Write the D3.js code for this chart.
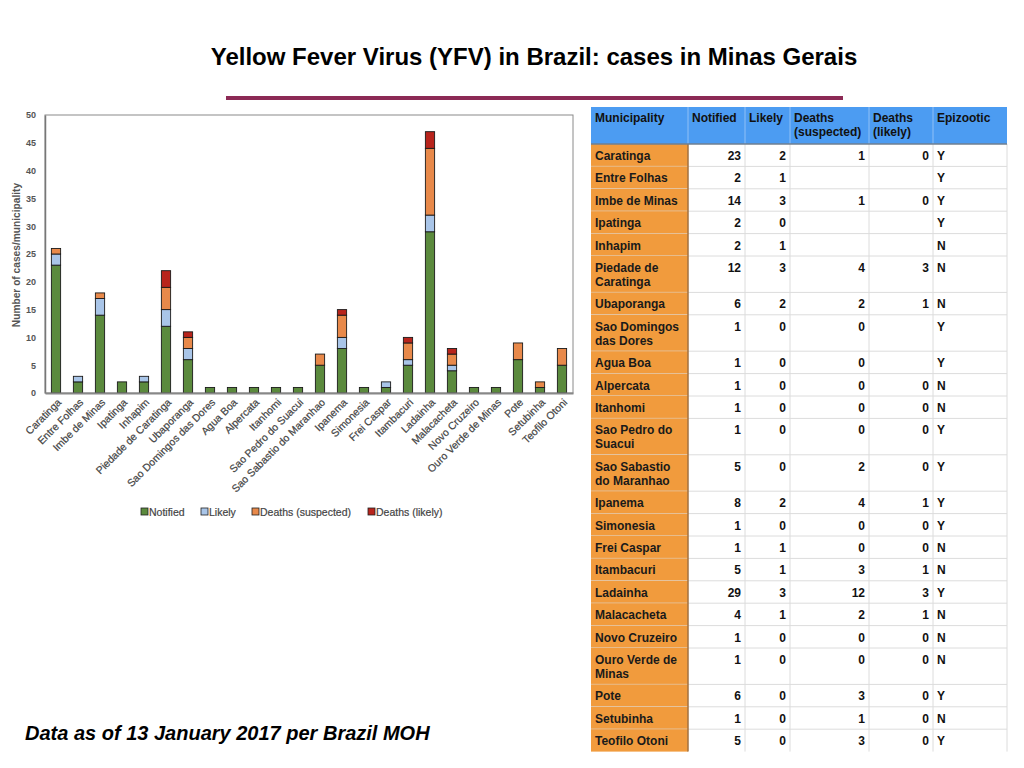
<!DOCTYPE html>
<html>
<head>
<meta charset="utf-8">
<script src="https://cdn.jsdelivr.net/npm/d3@7"></script>
<style>
  body { margin: 0; background: #fff; }
  svg { display: block; font-family: "Liberation Sans", Arial, sans-serif; }
</style>
</head>
<body>
<svg id="slide" width="1024" height="768"></svg>
<script>
// --------------- Data ---------------
const municipalities = [
  "Caratinga", "Entre Folhas", "Imbe de Minas", "Ipatinga", "Inhapim",
  "Piedade de Caratinga", "Ubaporanga", "Sao Domingos das Dores", "Agua Boa",
  "Alpercata", "Itanhomi", "Sao Pedro do Suacui", "Sao Sabastio do Maranhao",
  "Ipanema", "Simonesia", "Frei Caspar", "Itambacuri", "Ladainha",
  "Malacacheta", "Novo Cruzeiro", "Ouro Verde de Minas", "Pote", "Setubinha",
  "Teofilo Otoni"
];
const notified = [23, 2, 14, 2, 2, 12, 6, 1, 1, 1, 1, 1, 5, 8, 1, 1, 5, 29, 4, 1, 1, 6, 1, 5];
const likely = [2, 1, 3, 0, 1, 3, 2, 0, 0, 0, 0, 0, 0, 2, 0, 1, 1, 3, 1, 0, 0, 0, 0, 0];
const deathsSuspected = [1, null, 1, null, null, 4, 2, 0, 0, 0, 0, 0, 2, 4, 0, 0, 3, 12, 2, 0, 0, 3, 1, 3];
const deathsLikely = [0, null, 0, null, null, 3, 1, null, null, 0, 0, 0, 0, 1, 0, 0, 1, 3, 1, 0, 0, 0, 0, 0];
const epizootic = ["Y", "Y", "Y", "Y", "N", "N", "N", "Y", "Y", "N", "N", "Y", "Y", "Y", "Y", "N", "N", "Y", "N", "N", "N", "Y", "N", "Y"];

const seriesKeys = ["Notified", "Likely", "Deaths (suspected)", "Deaths (likely)"];
const seriesColors = ["#5b8a3d", "#a9c5e8", "#e8894a", "#b8241c"];
const yTicks = [0, 5, 10, 15, 20, 25, 30, 35, 40, 45, 50];

const tableHeaders = ["Municipality", "Notified", "Likely", "Deaths\n(suspected)", "Deaths\n(likely)", "Epizootic"];

// --------------- Constants ---------------
const PLOT = { left: 45, right: 573, top: 115, bottom: 393 };
const TABLE_X = [591, 688, 745, 790, 869, 933, 1007];
const TABLE_TOP = 107;
const HEADER_H = 37;
const ROW_H1 = 22.4;
const ROW_H2 = 36.4;

const HEADER_COLOR = "#4c9cf2";
const NAME_COLOR = "#f19b3d";
const AXIS_TEXT = "#555";

const svg = d3.select("#slide");

// --------------- Title ---------------
svg.append("text")
  .attr("x", 534)
  .attr("y", 65)
  .attr("text-anchor", "middle")
  .attr("font-size", 24)
  .attr("font-weight", "bold")
  .attr("fill", "#000")
  .text("Yellow Fever Virus (YFV) in Brazil: cases in Minas Gerais");

svg.append("rect")
  .attr("x", 226).attr("y", 96)
  .attr("width", 617).attr("height", 4)
  .attr("fill", "#8c2a55");

// --------------- Chart ---------------
const rows = municipalities.map((m, i) => ({
  name: m,
  "Notified": notified[i] || 0,
  "Likely": likely[i] || 0,
  "Deaths (suspected)": deathsSuspected[i] || 0,
  "Deaths (likely)": deathsLikely[i] || 0
}));

const x = d3.scaleBand()
  .domain(municipalities)
  .range([PLOT.left, PLOT.right])
  .paddingInner(0.58)
  .paddingOuter(0.29);

const y = d3.scaleLinear().domain([0, 50]).range([PLOT.bottom, PLOT.top]);
const color = d3.scaleOrdinal(seriesKeys, seriesColors);

// frame
svg.append("rect")
  .attr("x", PLOT.left).attr("y", PLOT.top)
  .attr("width", PLOT.right - PLOT.left).attr("height", PLOT.bottom - PLOT.top)
  .attr("fill", "none")
  .attr("stroke", "#8a8a8a")
  .attr("stroke-width", 1);

const stacked = d3.stack().keys(seriesKeys)(rows);

svg.append("g")
  .selectAll("g")
  .data(stacked)
  .join("g")
  .attr("fill", (d) => color(d.key))
  .selectAll("rect")
  .data((d) => d.filter((s) => s[1] > s[0]))
  .join("rect")
  .attr("x", (d) => x(d.data.name))
  .attr("y", (d) => y(d[1]))
  .attr("width", x.bandwidth())
  .attr("height", (d) => y(d[0]) - y(d[1]))
  .attr("stroke", "#1a1a1a")
  .attr("stroke-width", 0.9);

// y axis
const yAxis = svg.append("g")
  .attr("transform", `translate(${PLOT.left},0)`)
  .call(d3.axisLeft(y).tickValues(yTicks).tickSize(0).tickPadding(9));
yAxis.select(".domain").attr("stroke", "#777").attr("stroke-width", 1.5);
yAxis.selectAll("text")
  .attr("font-size", 9)
  .attr("font-weight", "bold")
  .attr("font-family", "Liberation Sans, Arial, sans-serif")
  .attr("fill", AXIS_TEXT);

// x axis
const xAxis = svg.append("g")
  .attr("transform", `translate(0,${PLOT.bottom})`)
  .call(d3.axisBottom(x).tickSize(0).tickPadding(0));
xAxis.select(".domain").attr("stroke", "#888").attr("stroke-width", 2);
xAxis.selectAll("text")
  .attr("font-size", 10.5)
  .attr("font-family", "Liberation Sans, Arial, sans-serif")
  .attr("fill", "#444")
  .attr("stroke", "#444")
  .attr("stroke-width", 0.2)
  .attr("text-anchor", "end")
  .attr("dy", 0)
  .attr("transform", "translate(6,10) rotate(-45)");

// y title
svg.append("text")
  .attr("transform", "translate(20,255) rotate(-90)")
  .attr("text-anchor", "middle")
  .attr("font-size", 10.2)
  .attr("font-weight", "bold")
  .attr("fill", AXIS_TEXT)
  .text("Number of cases/municipality");

// legend
const legendX = [141, 201, 252, 368];
const legend = svg.append("g")
  .selectAll("g")
  .data(seriesKeys)
  .join("g")
  .attr("transform", (d, i) => `translate(${legendX[i]},508)`);
legend.append("rect")
  .attr("width", 7).attr("height", 7)
  .attr("fill", (d) => color(d))
  .attr("stroke", "#222").attr("stroke-width", 0.8);
legend.append("text")
  .attr("x", 8).attr("y", 7.5)
  .attr("font-size", 10.5)
  .attr("fill", "#444")
  .attr("stroke", "#444")
  .attr("stroke-width", 0.2)
  .text((d) => d);

// --------------- Table ---------------
const table = svg.append("g").attr("font-size", 12).attr("font-weight", "bold");

function wrapWords(text, width) {
  const probe = table.append("text").attr("visibility", "hidden");
  const words = text.split(" ");
  const lines = [];
  let line = [];
  words.forEach((w) => {
    line.push(w);
    probe.text(line.join(" "));
    if (probe.node().getComputedTextLength() > width && line.length > 1) {
      line.pop();
      lines.push(line.join(" "));
      line = [w];
    }
  });
  lines.push(line.join(" "));
  probe.remove();
  return lines;
}

// header
table.append("rect")
  .attr("x", TABLE_X[0]).attr("y", TABLE_TOP)
  .attr("width", TABLE_X[6] - TABLE_X[0]).attr("height", HEADER_H)
  .attr("fill", HEADER_COLOR);

tableHeaders.forEach((h, c) => {
  const t = table.append("text")
    .attr("x", TABLE_X[c] + 4)
    .attr("y", TABLE_TOP + 15)
    .attr("fill", "#111");
  h.split("\n").forEach((ln, k) => {
    t.append("tspan").attr("x", TABLE_X[c] + 4).attr("dy", k === 0 ? 0 : 14).text(ln);
  });
});
TABLE_X.slice(1, 6).forEach((cx) => {
  table.append("line")
    .attr("x1", cx).attr("x2", cx)
    .attr("y1", TABLE_TOP).attr("y2", TABLE_TOP + HEADER_H)
    .attr("stroke", "#8fc0f7").attr("stroke-width", 1);
});

// body rows
let rowY = TABLE_TOP + HEADER_H;
const bodyTop = rowY;
const numCols = [notified, likely, deathsSuspected, deathsLikely];

municipalities.forEach((m, i) => {
  const lines = wrapWords(m, 89);
  const h = lines.length > 1 ? ROW_H2 : ROW_H1;

  table.append("rect")
    .attr("x", TABLE_X[0]).attr("y", rowY)
    .attr("width", TABLE_X[1] - TABLE_X[0]).attr("height", h)
    .attr("fill", NAME_COLOR);

  const nameText = table.append("text").attr("y", rowY + 16).attr("fill", "#1a1a1a");
  lines.forEach((ln, k) => {
    nameText.append("tspan").attr("x", TABLE_X[0] + 4).attr("dy", k === 0 ? 0 : 14).text(ln);
  });

  numCols.forEach((col, c) => {
    if (col[i] === null) return;
    table.append("text")
      .attr("x", TABLE_X[c + 2] - 4)
      .attr("y", rowY + 16)
      .attr("text-anchor", "end")
      .attr("fill", "#111")
      .text(col[i]);
  });

  table.append("text")
    .attr("x", TABLE_X[5] + 4)
    .attr("y", rowY + 16)
    .attr("fill", "#111")
    .text(epizootic[i]);

  rowY += h;
  table.append("line")
    .attr("x1", TABLE_X[0]).attr("x2", TABLE_X[6])
    .attr("y1", rowY).attr("y2", rowY)
    .attr("stroke", i === municipalities.length - 1 ? "none" : "#dcdcdc")
    .attr("stroke-width", 1);
});

// column dividers
TABLE_X.slice(2).forEach((cx) => {
  table.append("line")
    .attr("x1", cx).attr("x2", cx)
    .attr("y1", bodyTop).attr("y2", rowY)
    .attr("stroke", "#dcdcdc").attr("stroke-width", 1);
});
table.append("line")
  .attr("x1", TABLE_X[1]).attr("x2", TABLE_X[1])
  .attr("y1", bodyTop).attr("y2", rowY)
  .attr("stroke", "#a07040").attr("stroke-width", 1.5);
table.append("line")
  .attr("x1", TABLE_X[0]).attr("x2", TABLE_X[6])
  .attr("y1", bodyTop).attr("y2", bodyTop)
  .attr("stroke", "#6f7f90").attr("stroke-width", 1.5);

// --------------- Footnote ---------------
svg.append("text")
  .attr("x", 25)
  .attr("y", 740)
  .attr("font-size", 20)
  .attr("font-weight", "bold")
  .attr("font-style", "italic")
  .attr("fill", "#000")
  .text("Data as of 13 January 2017 per Brazil MOH");
</script>
</body>
</html>
